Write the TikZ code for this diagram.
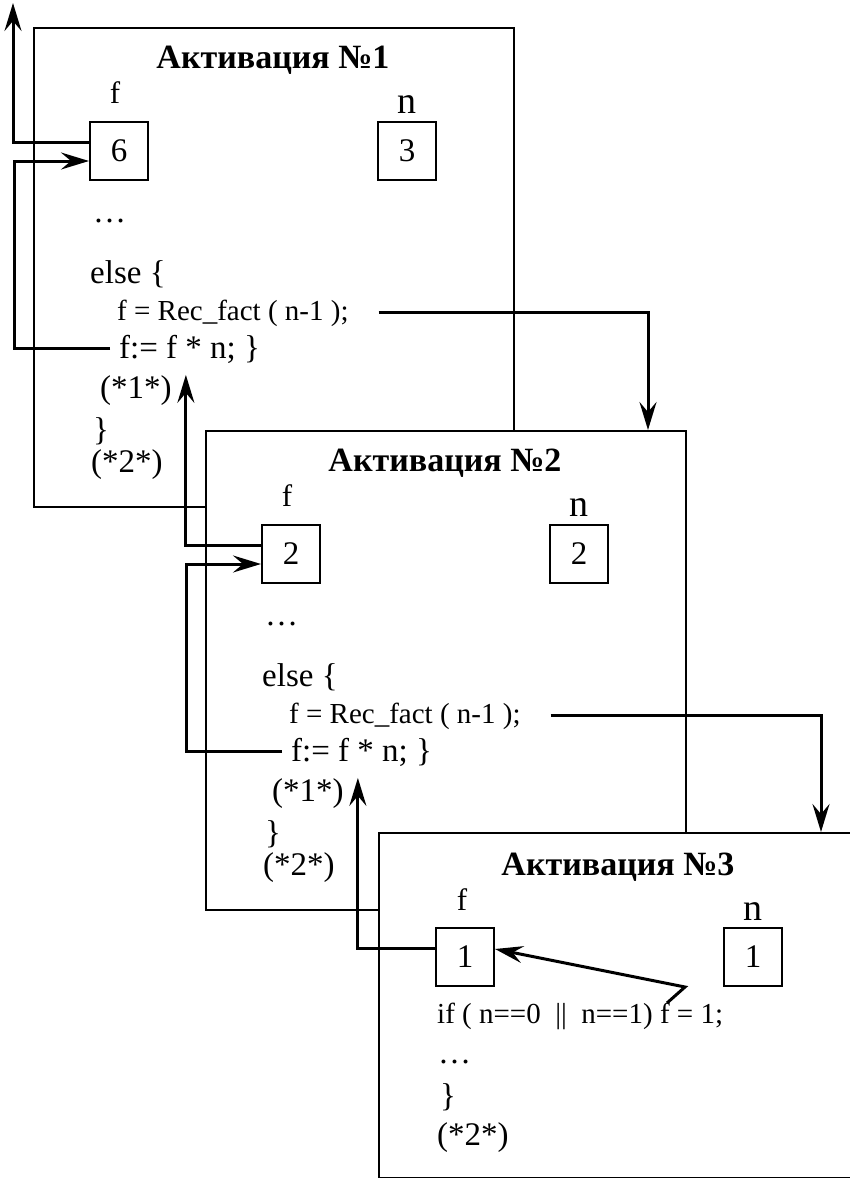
\documentclass[tikz,border=0pt]{standalone}
\usepackage{fontspec}
\setmainfont{Liberation Serif}
\usetikzlibrary{arrows.meta, positioning}

\tikzset{
  frame/.style={draw, line width=2pt, fill=white, anchor=north west,
    minimum width=480pt, minimum height=479pt, inner sep=0},
  cell/.style={draw, line width=2pt, minimum size=58pt, inner sep=0,
    font=\fontsize{33}{36}\selectfont},
  title/.style={anchor=base, inner sep=0, font=\fontsize{34}{38}\selectfont\bfseries},
  var/.style={anchor=base, inner sep=0, font=\fontsize{31}{34}\selectfont},
  bigvar/.style={anchor=base, inner sep=0, font=\fontsize{38}{42}\selectfont},
  code/.style={anchor=base west, inner sep=0, font=\fontsize{33}{38}\selectfont},
  small/.style={anchor=base west, inner sep=0, font=\fontsize{29}{34}\selectfont},
  arr/.style={line width=3pt, -{Stealth[length=28pt, width=17pt, inset=10pt]}}
}

\begin{document}
\begin{tikzpicture}[x=1pt, y=-1pt]
\useasboundingbox (0,0) rectangle (850,1178);

% Activations 1 and 2 (same body)
\foreach \k/\X/\Y/\fv/\nv in {1/33/27/6/3, 2/205/430/2/2} {
  \node[frame] (fr\k) at (\X,\Y) {};
  \begin{scope}[shift={(\X,\Y)}]
    \node[title] (t\k) at (240,41) {Активация №\k};
    \node[var] (lf\k) at (82,76) {f};
    \node[bigvar] (ln\k) at (374,86) {n};
    \node[cell] (f\k) at (86,124) {\fv};
    \node[cell] (n\k) at (374,124) {\nv};
    \node[code] (dots\k) at (60,195) {…};
    \node[code] (else\k) at (57,256) {else \{};
    \node[small] (call\k) at (84,293) {f = Rec\_fact ( n-1 );};
    \node[code] (mul\k) at (86,331) {f:= f * n; \}};
    \node[code] (back\k) at (67,371) {(*1*)};
    \node[code] (close\k) at (60,413) {\}};
    \node[code] (ret\k) at (58,445) {(*2*)};
  \end{scope}
}

% Activation 3
\node[frame, minimum height=345pt] (fr3) at (378,832) {};
\begin{scope}[shift={(378,832)}]
  \node[title] (t3) at (240,43) {Активация №3};
  \node[var] (lf3) at (84,78) {f};
  \node[bigvar] (ln3) at (375,88) {n};
  \node[cell] (f3) at (87,125) {1};
  \node[cell] (n3) at (375,125) {1};
  \node[small] (if3) at (59,191) {if ( n==0~~||~~n==1) f = 1;};
  \node[code] (dots3) at (60,231) {…};
  \node[code] (close3) at (62,274) {\}};
  \node[code] (ret3) at (59,313) {(*2*)};
  \coordinate (fone) at (289,171);
  \coordinate (kink) at (307,155);
\end{scope}

% way out of activation 1
\coordinate (exit) at (13,3);
\draw[arr] ([yshift=9pt]f1.west) -| (exit);

% results returned to (*1*)
\draw[arr] ([yshift=9pt]f2.west) -| ([xshift=14pt]back1.north east);
\draw[arr] ([yshift=9pt]f3.west) -| ([xshift=14pt]back2.north east);

% f:= f * n writes back into f
\foreach \k in {1,2}
  \draw[arr] ([xshift=-9pt]mul\k.west) -| ([xshift=-19pt]fr\k.west) |- ([yshift=-10pt]f\k.west);

% recursive calls
\draw[arr] ([xshift=30pt]call1.east) -| ([xshift=202pt]fr2.north);
\draw[arr] ([xshift=30pt]call2.east) -| ([xshift=202pt]fr3.north);

% f = 1
\draw[arr] (fone) -- (kink) -- ([yshift=8pt]f3.east);

\end{tikzpicture}
\end{document}
